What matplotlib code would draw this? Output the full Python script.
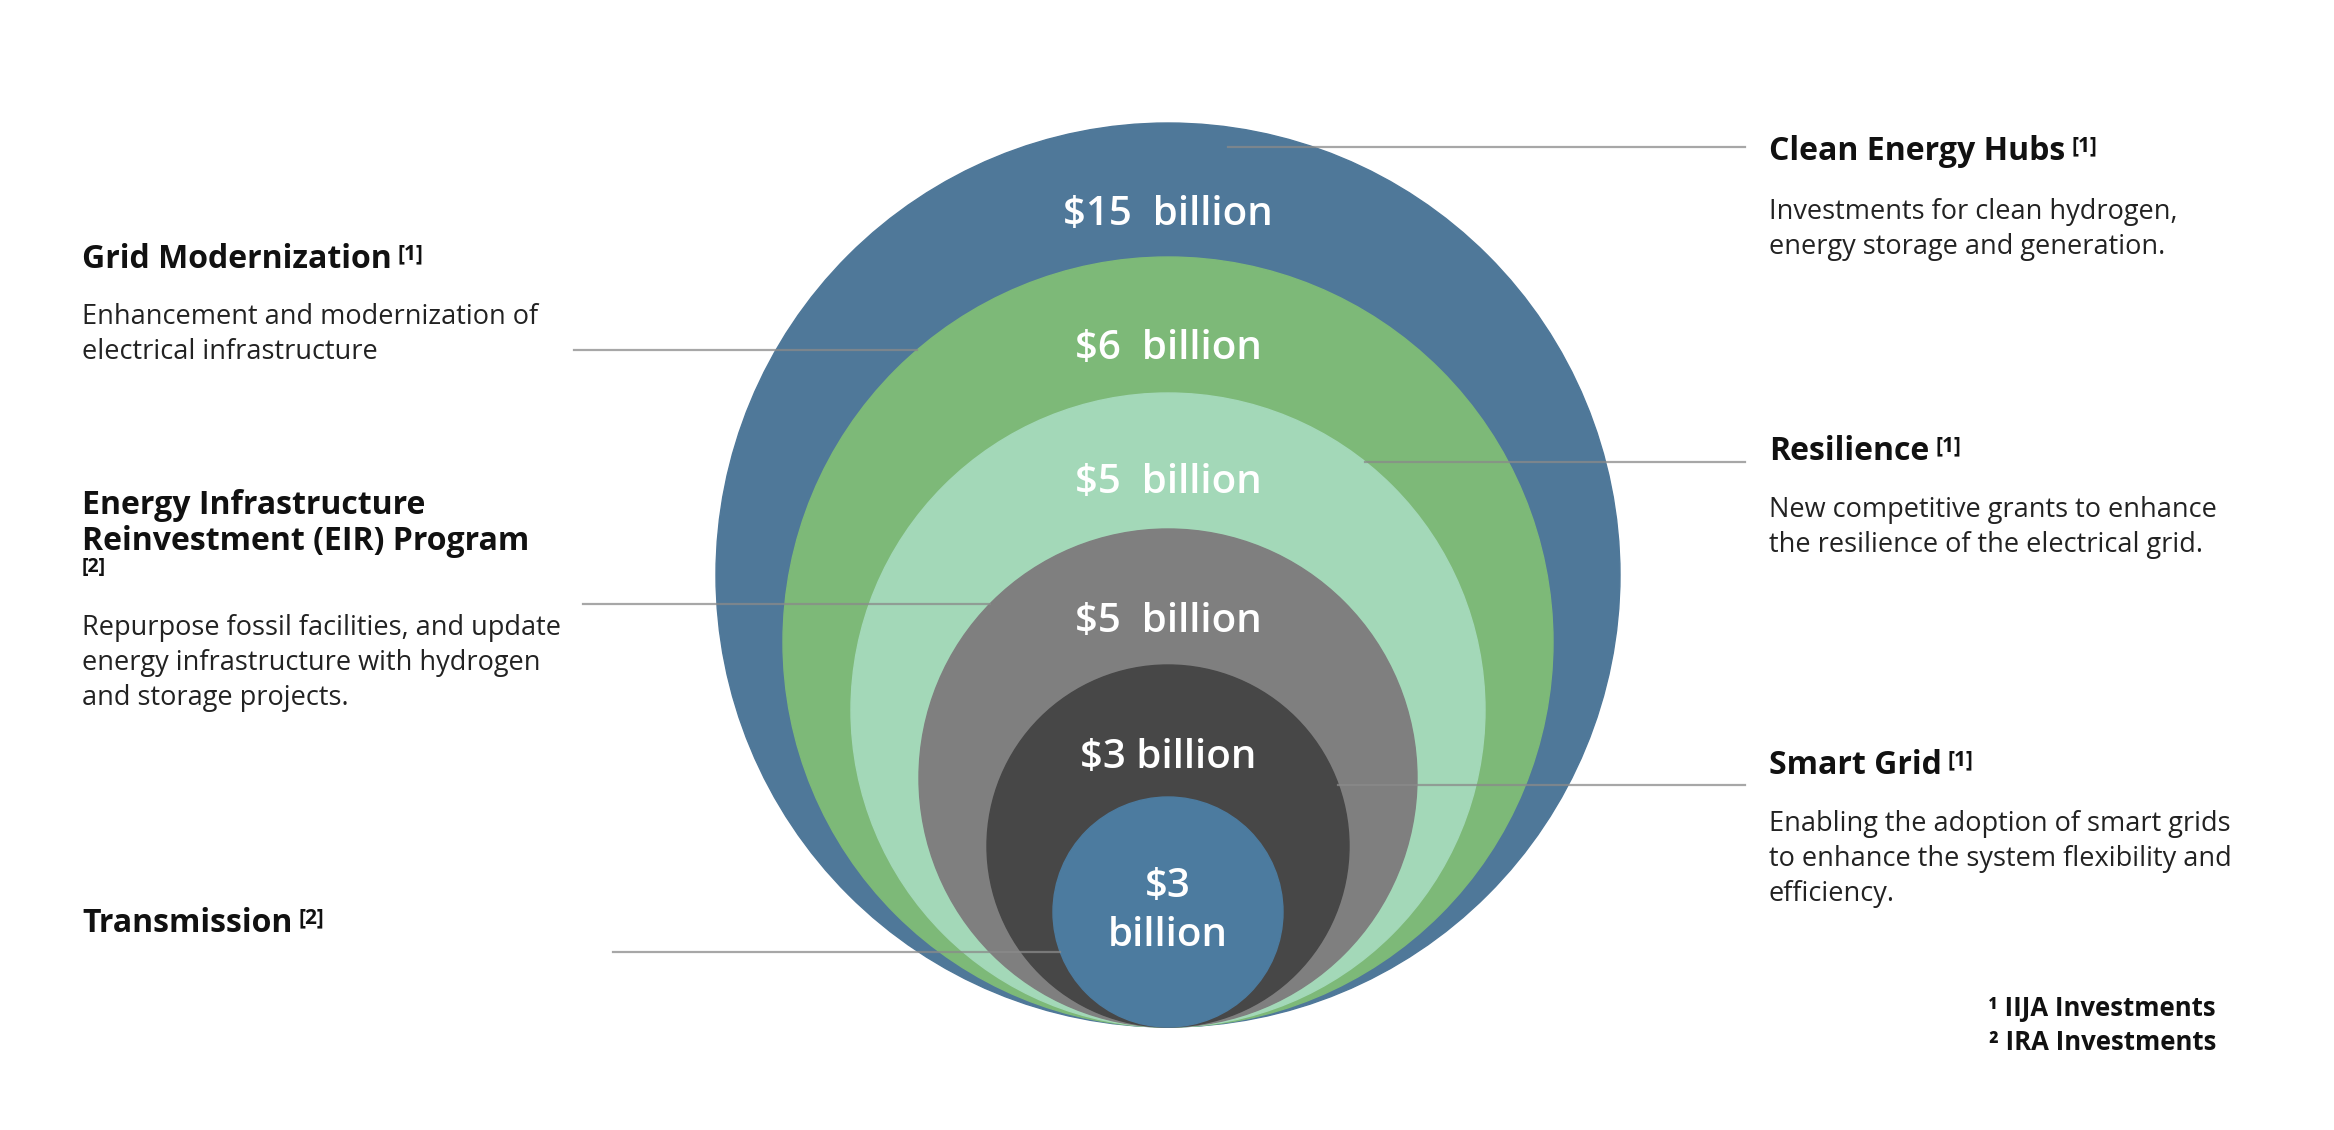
import matplotlib
matplotlib.use("Agg")
import matplotlib.pyplot as plt
from matplotlib.patches import Circle
import numpy as np

# ---- data (outer ring -> inner circle) ----
amounts = [15, 6, 5, 5, 3, 3]  # billion USD
amount_labels = ["$15  billion", "$6  billion", "$5  billion",
                 "$5  billion", "$3 billion", "$3\nbillion"]
programs = ["Clean Energy Hubs", "Grid Modernization", "Resilience",
            "Energy Infrastructure\nReinvestment (EIR) Program",
            "Smart Grid", "Transmission"]
sources = [1, 1, 1, 2, 1, 2]
descriptions = [
    "Investments for clean hydrogen,\nenergy storage and generation.",
    "Enhancement and modernization of\nelectrical infrastructure",
    "New competitive grants to enhance\nthe resilience of the electrical grid.",
    "Repurpose fossil facilities, and update\nenergy infrastructure with hydrogen\nand storage projects.",
    "Enabling the adoption of smart grids\nto enhance the system flexibility and\nefficiency.",
    "",
]
footnotes = ["\u00b9 IIJA Investments", "\u00b2 IRA Investments"]

# ---- layout (pixels of the 2334x1130 canvas) ----
W, H = 2334, 1130
cx, base_y = 1168, 1027
radii = [452, 385, 317, 249, 181, 115]
colors = ["#4f7899", "#7db978", "#a3d8b8", "#7f7f7f", "#474747", "#4c7b9f"]
label_y = [215, 349, 483, 622, 758, 912]
side = ["right", "left", "right", "left", "right", "left"]
title_y = [151, 259, 451, 506, 765, 923]
desc_y = [212, 317, 510, 628, 824, 0]
leader_y = [147, 350, 462, 604, 785, 952]
leader_inset = [85, 0, 0, 0, 0, 0]
left_x, right_x = 82, 1769
left_line_x = [0, 574, 0, 583, 0, 613]
right_line_x = 1745
line_step = 35

FONT = ["Open Sans", "DejaVu Sans"]

fig = plt.figure(figsize=(W / 100, H / 100), dpi=100)
ax = fig.add_axes([0, 0, 1, 1])
ax.set_xlim(0, W)
ax.set_ylim(H, 0)
ax.set_aspect("equal")
ax.axis("off")

# nested circles, all touching at the bottom
for r, c in zip(radii, colors):
    ax.add_patch(Circle((cx, base_y - r), r, facecolor=c, edgecolor=c, lw=1, zorder=1))

for lab, y in zip(amount_labels, label_y):
    ax.text(cx, y, lab, color="white", fontsize=29, fontweight="semibold",
            family=FONT, ha="center", va="center", linespacing=1.3, zorder=5)

# leader lines
for i, r in enumerate(radii):
    cy = base_y - r
    y = leader_y[i]
    dx = np.sqrt(max(r ** 2 - (y - cy) ** 2, 0))
    if side[i] == "right":
        x0 = cx + dx - leader_inset[i]
        ax.plot([x0, right_line_x], [y, y], color="#8a8a8a", alpha=0.75, lw=1.6, zorder=3)
    else:
        x1 = cx - dx
        ax.plot([left_line_x[i], x1], [y, y], color="#8a8a8a", alpha=0.75, lw=1.6, zorder=3)

# titles and descriptions
titles = []
for i, name in enumerate(programs):
    x = right_x if side[i] == "right" else left_x
    lines = name.split("\n")
    for k, ln in enumerate(lines):
        t = ax.text(x, title_y[i] + k * 35, ln, fontsize=23, fontweight="bold",
                    family=FONT, color="#111111", ha="left", va="center", zorder=5)
    titles.append((t, len(lines) > 1, x, title_y[i] + len(lines) * 35))
    if descriptions[i]:
        for k, ln in enumerate(descriptions[i].split("\n")):
            ax.text(x, desc_y[i] + k * line_step, ln, fontsize=19.5,
                    family=FONT, color="#222222", ha="left", va="center", zorder=5)

# superscript source markers
fig.canvas.draw()
renderer = fig.canvas.get_renderer()
for (t, wrapped, x, y_next), s in zip(titles, sources):
    if wrapped:
        ax.text(x, y_next - 9, f"[{s}]", fontsize=14, fontweight="bold",
                family=FONT, color="#111111", ha="left", va="center", zorder=5)
    else:
        bb = t.get_window_extent(renderer)
        ax.text(bb.x1 + 6, H - bb.y1 + 1, f"[{s}]", fontsize=15, fontweight="bold",
                family=FONT, color="#111111", ha="left", va="top", zorder=5)

for k, fn in enumerate(footnotes):
    ax.text(2216, 1008 + k * 35, fn, fontsize=18.5, fontweight="bold",
            family=FONT, color="#111111", ha="right", va="center", zorder=5)

fig.savefig("out.png", dpi=100, facecolor="white")
